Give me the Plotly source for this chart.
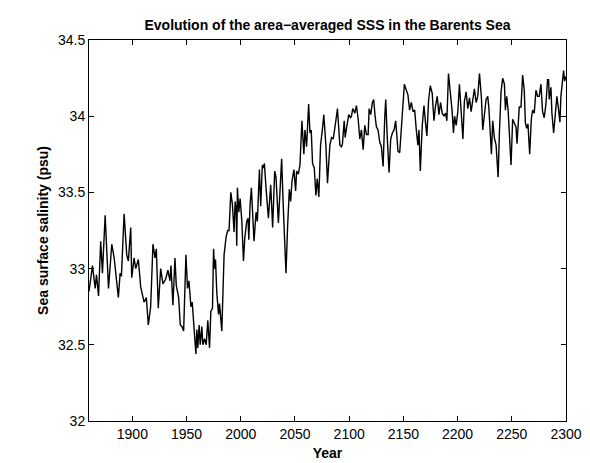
import plotly.graph_objects as go

years = [
    1860.0, 1863.2, 1865.7, 1866.9, 1868.8, 1870.8, 1872.4, 1874.9, 1878.0, 1881.0,
    1883.2, 1884.7, 1887.1, 1888.7, 1889.9, 1892.4, 1894.8, 1896.3, 1898.5, 1899.4,
    1901.6, 1903.1, 1905.5, 1907.7, 1910.8, 1912.9, 1914.7, 1916.9, 1919.0, 1920.9,
    1922.1, 1923.9, 1926.1, 1928.2, 1930.7, 1932.8, 1934.7, 1935.6, 1936.2,
    1937.4, 1939.3, 1940.5, 1942.7, 1944.2, 1945.7, 1947.3, 1949.4, 1950.9, 1952.2,
    1954.0, 1955.2, 1957.0, 1958.6, 1959.5, 1960.4, 1961.6, 1962.6, 1964.1, 1965.0,
    1966.6, 1968.1, 1969.6, 1971.2, 1972.4, 1973.9, 1974.9, 1975.8, 1976.7, 1977.9,
    1979.5, 1980.4, 1982.5, 1984.6, 1986.5, 1988.0, 1989.2, 1990.8, 1992.3, 1993.8,
    1994.8, 1995.7, 1996.3, 1996.9, 1998.2, 1999.4, 2000.9, 2002.5, 2003.7, 2005.5,
    2006.7, 2007.4, 2008.6,
    2009.8, 2012.2, 2014.1, 2015.3, 2017.2, 2018.4, 2019.9, 2020.9, 2021.8, 2023.3,
    2025.5, 2027.6, 2029.4, 2031.3, 2032.5, 2034.7, 2037.7, 2039.3, 2041.7, 2043.2,
    2044.8, 2046.0, 2047.2, 2049.0, 2050.6, 2051.5, 2053.1, 2054.6, 2056.4, 2058.2,
    2059.2, 2060.7, 2062.6, 2063.8, 2065.0, 2066.2, 2067.8, 2069.3, 2070.5, 2072.0,
    2073.6, 2075.4, 2076.6, 2078.5, 2080.0, 2082.2,
    2083.7, 2085.3, 2086.8, 2087.7, 2089.2, 2091.4, 2092.9, 2093.8, 2095.4, 2096.3,
    2097.5, 2099.6, 2101.2, 2102.1, 2103.3, 2105.2, 2106.7, 2108.3, 2109.8, 2111.3,
    2112.9, 2114.4, 2115.9, 2117.5, 2118.4, 2119.9, 2121.4, 2122.6, 2123.9, 2125.1,
    2126.6, 2128.2, 2129.7, 2131.3, 2132.8, 2133.7, 2135.2, 2136.8, 2138.3, 2139.8,
    2141.4, 2142.9, 2144.1, 2145.0, 2146.6, 2148.1, 2149.7, 2150.9, 2152.7, 2154.2,
    2155.7,
    2157.3, 2158.9, 2160.4, 2161.9, 2163.4, 2164.4, 2165.6, 2167.4, 2169.0, 2170.5,
    2171.7, 2173.2, 2174.8, 2176.6, 2178.2, 2179.7, 2181.2, 2182.8, 2184.3, 2185.8,
    2187.4, 2188.9, 2190.1, 2191.6, 2193.5, 2195.0, 2196.2, 2197.2, 2198.7, 2200.2,
    2201.7, 2203.3, 2204.9, 2206.3, 2207.9, 2209.4, 2211.0, 2212.5, 2214.0, 2215.5,
    2217.1, 2218.6, 2220.2, 2222.0, 2223.2, 2224.7, 2226.3, 2227.8,
    2228.8, 2230.0, 2231.2, 2232.4, 2233.9, 2235.5, 2237.4, 2238.6, 2240.1, 2241.6,
    2243.2, 2244.1, 2245.3, 2246.6, 2247.7, 2249.3, 2250.8, 2252.3, 2253.9, 2254.8,
    2256.0, 2256.9, 2258.5, 2260.0, 2261.5, 2262.5, 2263.7, 2264.9, 2266.5, 2268.0,
    2269.2, 2270.7, 2272.3, 2273.8, 2275.3, 2276.9, 2278.4, 2279.9, 2281.5, 2283.0,
    2284.0, 2284.5, 2286.1, 2287.0, 2288.6, 2290.1, 2291.6, 2293.2, 2294.4, 2295.3,
    2296.9, 2297.8, 2298.7, 2300.0,
]

sss = [
    32.85, 33.02, 32.87, 32.96, 32.82, 33.18, 32.97, 33.35, 32.87, 33.16,
    33.07, 32.96, 32.81, 32.97, 32.95, 33.36, 33.09, 33.05, 33.27, 32.94,
    33.07, 33.00, 33.06, 32.88, 32.78, 32.81, 32.63, 32.75, 33.16, 33.07,
    33.13, 32.74, 33.00, 32.90, 32.93, 32.99, 32.92, 33.02, 32.93,
    32.76, 33.07, 32.89, 32.81, 32.63, 32.62, 32.59, 33.09, 32.87, 32.92,
    32.75, 32.78, 32.61, 32.44, 32.60, 32.48, 32.63, 32.50, 32.62, 32.50,
    32.54, 32.50, 32.66, 32.48, 32.72, 32.74, 33.13, 33.00, 33.06, 32.84,
    32.70, 32.77, 32.59, 33.09, 33.21, 33.25, 33.25, 33.50, 33.42, 33.24,
    33.44, 33.39, 33.15, 33.53, 33.37, 33.46, 33.32, 33.05, 33.20, 33.31,
    33.33, 33.19, 33.42,
    33.53, 33.18, 33.37, 33.31, 33.65, 33.41, 33.68, 33.66, 33.69, 33.53,
    33.33, 33.55, 33.27, 33.64, 33.60, 33.30, 33.72, 33.39, 32.97, 33.28,
    33.52, 33.44, 33.57, 33.65, 33.51, 33.64, 33.62, 33.68, 33.97, 33.75,
    33.91, 33.80, 34.08, 33.89, 33.91, 33.69, 33.66, 33.48, 33.59, 33.47,
    33.81, 33.92, 34.01, 33.81, 33.56, 33.81,
    33.86, 33.85, 33.91, 33.97, 34.05, 33.81, 33.80, 33.82, 33.97, 33.86,
    33.92, 34.01, 33.99, 34.00, 34.05, 34.02, 34.07, 33.98, 33.85, 33.91,
    33.78, 33.94, 33.88, 33.88, 34.05, 34.01, 34.09, 34.11, 34.00, 33.93,
    33.91, 33.83, 33.80, 33.67, 33.99, 34.11, 33.85, 33.63, 33.85, 33.89,
    33.91, 33.97, 33.86, 33.77, 33.76, 33.94, 34.14, 34.21, 34.17, 34.14,
    34.04,
    34.09, 34.03, 34.04, 33.91, 33.81, 33.91, 33.64, 33.94, 34.07, 33.95,
    33.87, 34.10, 34.20, 34.15, 33.97, 34.07, 34.13, 34.01, 34.09, 34.02,
    34.00, 34.02, 33.97, 34.28, 34.14, 34.03, 33.89, 34.00, 33.94, 34.03,
    34.21, 34.02, 33.85, 34.10, 34.16, 34.05, 34.12, 34.03, 34.10, 34.18,
    34.09, 34.13, 34.28, 34.12, 33.91, 33.99, 34.11, 34.13,
    34.06, 33.91, 33.75, 33.97, 33.86, 33.81, 33.60, 33.90, 34.16, 34.25,
    34.21, 34.04, 34.13, 34.04, 33.88, 33.68, 33.98, 33.95, 33.93, 33.82,
    34.02, 34.06, 34.06, 34.27, 34.17, 33.96, 33.92, 33.95, 33.75, 33.98,
    34.04, 34.02, 34.17, 34.13, 34.13, 34.21, 34.03, 33.99, 34.08, 34.24,
    34.24, 34.11, 34.19, 34.02, 33.89, 34.04, 34.13, 34.04, 33.96, 34.13,
    34.25, 34.30, 34.23, 34.26,
]

x_ticks = [1900, 1950, 2000, 2050, 2100, 2150, 2200, 2250, 2300]
y_ticks = [32, 32.5, 33, 33.5, 34, 34.5]

FONT = "Liberation Sans, Arial, Helvetica, sans-serif"

fig = go.Figure(
    go.Scatter(x=years, y=sss, mode="lines",
               line=dict(color="black", width=1.4), showlegend=False)
)

axis_common = dict(
    showgrid=False, zeroline=False, showline=True, linecolor="black",
    linewidth=1, mirror="ticks", ticks="inside", ticklen=5,
    tickcolor="black", tickwidth=1, automargin=False,
    tickfont=dict(family=FONT, size=14, color="black"),
)

fig.update_layout(
    width=590, height=463,
    margin=dict(l=81, r=32, t=32, b=50),
    paper_bgcolor="white", plot_bgcolor="white",
    title=dict(text="<b>Evolution of the area\u2212averaged SSS in the Barents Sea</b>",
               x=0.5, xref="paper", xanchor="center",
               y=1 - 17 / 463, yref="container", yanchor="middle",
               font=dict(family=FONT, size=14, color="black")),
    xaxis=dict(range=[1860, 2300], tickvals=x_ticks,
               title=dict(text="<b>Year</b>", standoff=7,
                          font=dict(family=FONT, size=14, color="black")),
               **axis_common),
    yaxis=dict(range=[32, 34.5], tickvals=y_ticks,
               title=dict(text="<b>Sea surface salinity (psu)</b>", standoff=6,
                          font=dict(family=FONT, size=14, color="black")),
               **axis_common),
)

fig.write_html("out.html")
